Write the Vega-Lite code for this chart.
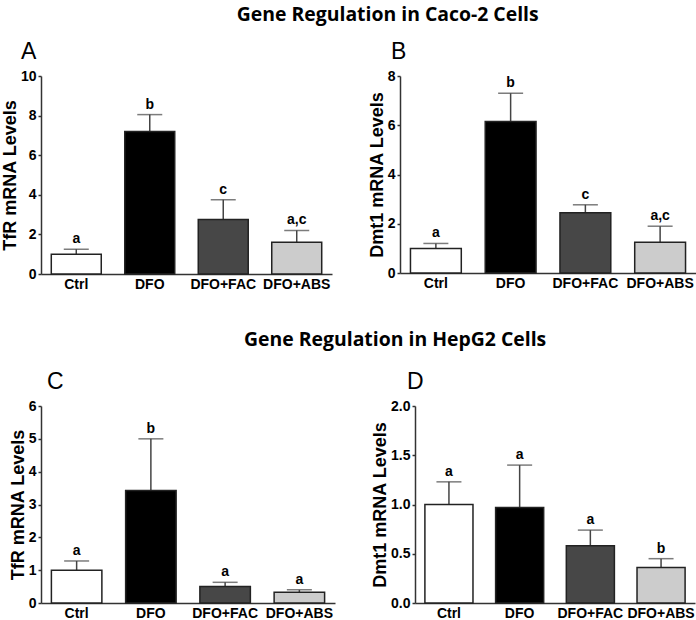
{
  "$schema": "https://vega.github.io/schema/vega-lite/v6.json",
  "background": "white",
  "padding": {"left": 1, "top": 4, "right": 0, "bottom": 0},
  "datasets": {
    "A": [
      {"group": "Ctrl", "mean": 1.0, "err": 1.25, "sig": "a"},
      {"group": "DFO", "mean": 7.2, "err": 8.05, "sig": "b"},
      {"group": "DFO+FAC", "mean": 2.75, "err": 3.75, "sig": "c"},
      {"group": "DFO+ABS", "mean": 1.6, "err": 2.2, "sig": "a,c"}
    ],
    "B": [
      {"group": "Ctrl", "mean": 1.0, "err": 1.2, "sig": "a"},
      {"group": "DFO", "mean": 6.15, "err": 7.3, "sig": "b"},
      {"group": "DFO+FAC", "mean": 2.45, "err": 2.77, "sig": "c"},
      {"group": "DFO+ABS", "mean": 1.25, "err": 1.9, "sig": "a,c"}
    ],
    "C": [
      {"group": "Ctrl", "mean": 1.0, "err": 1.28, "sig": "a"},
      {"group": "DFO", "mean": 3.43, "err": 5.0, "sig": "b"},
      {"group": "DFO+FAC", "mean": 0.5, "err": 0.63, "sig": "a"},
      {"group": "DFO+ABS", "mean": 0.33, "err": 0.4, "sig": "a"}
    ],
    "D": [
      {"group": "Ctrl", "mean": 1.0, "err": 1.23, "sig": "a"},
      {"group": "DFO", "mean": 0.97, "err": 1.4, "sig": "a"},
      {"group": "DFO+FAC", "mean": 0.58, "err": 0.74, "sig": "a"},
      {"group": "DFO+ABS", "mean": 0.36, "err": 0.45, "sig": "b"}
    ]
  },
  "config": {
    "view": {"stroke": null},
    "font": "Liberation Sans",
    "axis": {
      "grid": false,
      "domainColor": "#333333",
      "domainWidth": 1.5,
      "tickColor": "#333333",
      "tickWidth": 1.5,
      "labelFont": "Liberation Sans",
      "labelFontWeight": "bold",
      "labelFontSize": 14,
      "labelColor": "black",
      "labelOverlap": false,
      "titleFont": "Liberation Sans",
      "titleFontWeight": "bold",
      "titleFontSize": 18,
      "titleColor": "black"
    },
    "axisX": {"ticks": false, "labelAngle": 0, "labelPadding": 3, "title": null},
    "axisY": {"tickSize": 3, "labelPadding": 2, "titlePadding": 1, "tickCount": 12},
    "title": {"font": "Liberation Sans", "fontWeight": "normal", "fontSize": 23, "color": "black", "anchor": "start", "frame": "group"}
  },
  "vconcat": [
    {
      "title": {"text": "Gene Regulation in Caco-2 Cells", "font": "Open Sans", "fontWeight": "bold", "fontSize": 19.4, "anchor": "middle", "frame": "bounds", "dx": 39, "offset": 16},
      "spacing": 36,
      "hconcat": [
        {
          "title": {"text": "A", "dx": -20, "offset": 5},
          "width": 291, "height": 198,
          "data": {"name": "A"},
          "encoding": {
            "x": {"field": "group", "type": "nominal", "sort": null, "scale": {"paddingInner": 0.32, "paddingOuter": 0.14}}
          },
          "layer": [
            {"mark": {"type": "rule", "color": "#444444", "strokeWidth": 1.5}, "encoding": {"y": {"field": "mean", "type": "quantitative", "title": "TfR mRNA Levels", "scale": {"domain": [0, 10]}, "axis": {"values": [0, 2, 4, 6, 8, 10], "tickCount": 12, "format": "d"}}, "y2": {"field": "err"}}},
            {"mark": {"type": "tick", "color": "#444444", "thickness": 1.5, "size": 25, "orient": "horizontal"}, "encoding": {"y": {"field": "err", "type": "quantitative", "title": "TfR mRNA Levels"}}},
            {"mark": {"type": "bar", "stroke": "#222222", "strokeWidth": 1.5},
             "encoding": {
               "y": {"field": "mean", "type": "quantitative", "title": "TfR mRNA Levels"},
               "fill": {"field": "group", "type": "nominal", "sort": null, "legend": null, "scale": {"domain": ["Ctrl", "DFO", "DFO+FAC", "DFO+ABS"], "range": ["#ffffff", "#000000", "#474747", "#cccccc"]}}
             }},
            {"mark": {"type": "text", "baseline": "bottom", "dy": -3, "fontWeight": "bold", "fontSize": 14, "font": "Liberation Sans"}, "encoding": {"y": {"field": "err", "type": "quantitative", "title": "TfR mRNA Levels"}, "text": {"field": "sig"}}}
          ]
        },
        {
          "title": {"text": "B", "dx": -9, "offset": 5},
          "width": 296, "height": 197,
          "data": {"name": "B"},
          "encoding": {
            "x": {"field": "group", "type": "nominal", "sort": null, "scale": {"paddingInner": 0.32, "paddingOuter": 0.14}}
          },
          "layer": [
            {"mark": {"type": "rule", "color": "#444444", "strokeWidth": 1.5}, "encoding": {"y": {"field": "mean", "type": "quantitative", "title": "Dmt1 mRNA Levels", "scale": {"domain": [0, 8]}, "axis": {"values": [0, 2, 4, 6, 8], "tickCount": 12, "format": "d"}}, "y2": {"field": "err"}}},
            {"mark": {"type": "tick", "color": "#444444", "thickness": 1.5, "size": 25, "orient": "horizontal"}, "encoding": {"y": {"field": "err", "type": "quantitative", "title": "Dmt1 mRNA Levels"}}},
            {"mark": {"type": "bar", "stroke": "#222222", "strokeWidth": 1.5},
             "encoding": {
               "y": {"field": "mean", "type": "quantitative", "title": "Dmt1 mRNA Levels"},
               "fill": {"field": "group", "type": "nominal", "sort": null, "legend": null, "scale": {"domain": ["Ctrl", "DFO", "DFO+FAC", "DFO+ABS"], "range": ["#ffffff", "#000000", "#474747", "#cccccc"]}}
             }},
            {"mark": {"type": "text", "baseline": "bottom", "dy": -3, "fontWeight": "bold", "fontSize": 14, "font": "Liberation Sans"}, "encoding": {"y": {"field": "err", "type": "quantitative", "title": "Dmt1 mRNA Levels"}, "text": {"field": "sig"}}}
          ]
        }
      ]
    },
    {
      "title": {"text": "Gene Regulation in HepG2 Cells", "font": "Open Sans", "fontWeight": "bold", "fontSize": 19.4, "anchor": "middle", "frame": "bounds", "dx": 43, "offset": 21},
      "spacing": 36,
      "hconcat": [
        {
          "title": {"text": "C", "dx": 6, "offset": 5},
          "width": 294, "height": 197,
          "data": {"name": "C"},
          "encoding": {
            "x": {"field": "group", "type": "nominal", "sort": null, "scale": {"paddingInner": 0.32, "paddingOuter": 0.14}}
          },
          "layer": [
            {"mark": {"type": "rule", "color": "#444444", "strokeWidth": 1.5}, "encoding": {"y": {"field": "mean", "type": "quantitative", "title": "TfR mRNA Levels", "scale": {"domain": [0, 6]}, "axis": {"values": [0, 1, 2, 3, 4, 5, 6], "tickCount": 12, "format": "d"}}, "y2": {"field": "err"}}},
            {"mark": {"type": "tick", "color": "#444444", "thickness": 1.5, "size": 25, "orient": "horizontal"}, "encoding": {"y": {"field": "err", "type": "quantitative", "title": "TfR mRNA Levels"}}},
            {"mark": {"type": "bar", "stroke": "#222222", "strokeWidth": 1.5},
             "encoding": {
               "y": {"field": "mean", "type": "quantitative", "title": "TfR mRNA Levels"},
               "fill": {"field": "group", "type": "nominal", "sort": null, "legend": null, "scale": {"domain": ["Ctrl", "DFO", "DFO+FAC", "DFO+ABS"], "range": ["#ffffff", "#000000", "#474747", "#cccccc"]}}
             }},
            {"mark": {"type": "text", "baseline": "bottom", "dy": -3, "fontWeight": "bold", "fontSize": 14, "font": "Liberation Sans"}, "encoding": {"y": {"field": "err", "type": "quantitative", "title": "TfR mRNA Levels"}, "text": {"field": "sig"}}}
          ]
        },
        {
          "title": {"text": "D", "dx": -8, "offset": 5},
          "width": 280, "height": 197,
          "data": {"name": "D"},
          "encoding": {
            "x": {"field": "group", "type": "nominal", "sort": null, "scale": {"paddingInner": 0.32, "paddingOuter": 0.14}}
          },
          "layer": [
            {"mark": {"type": "rule", "color": "#444444", "strokeWidth": 1.5}, "encoding": {"y": {"field": "mean", "type": "quantitative", "title": "Dmt1 mRNA Levels", "scale": {"domain": [0, 2]}, "axis": {"values": [0, 0.5, 1, 1.5, 2], "format": ".1f", "tickCount": 12}}, "y2": {"field": "err"}}},
            {"mark": {"type": "tick", "color": "#444444", "thickness": 1.5, "size": 25, "orient": "horizontal"}, "encoding": {"y": {"field": "err", "type": "quantitative", "title": "Dmt1 mRNA Levels"}}},
            {"mark": {"type": "bar", "stroke": "#222222", "strokeWidth": 1.5},
             "encoding": {
               "y": {"field": "mean", "type": "quantitative", "title": "Dmt1 mRNA Levels"},
               "fill": {"field": "group", "type": "nominal", "sort": null, "legend": null, "scale": {"domain": ["Ctrl", "DFO", "DFO+FAC", "DFO+ABS"], "range": ["#ffffff", "#000000", "#474747", "#cccccc"]}}
             }},
            {"mark": {"type": "text", "baseline": "bottom", "dy": -3, "fontWeight": "bold", "fontSize": 14, "font": "Liberation Sans"}, "encoding": {"y": {"field": "err", "type": "quantitative", "title": "Dmt1 mRNA Levels"}, "text": {"field": "sig"}}}
          ]
        }
      ]
    }
  ],
  "spacing": 38
}
